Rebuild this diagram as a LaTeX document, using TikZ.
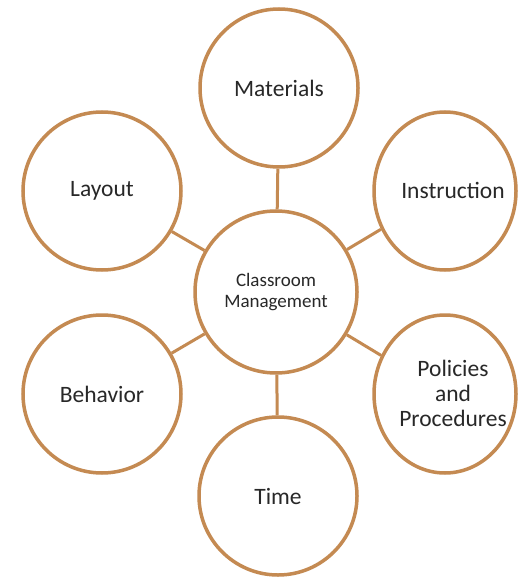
\documentclass[tikz,border=0pt]{standalone}
\usepackage{fontspec}
\setmainfont{Carlito}
\usetikzlibrary{shapes.geometric}
\definecolor{ring}{RGB}{196,138,82}
\definecolor{ink}{RGB}{40,40,40}
% label with no size of its own, nudged right and down inside its ring
\newcommand{\nudged}[1]{\makebox[0pt]{\hspace*{16pt}\raisebox{-9pt}[0pt][0pt]{\begin{tabular}{@{}c@{}}#1\end{tabular}}}}
\begin{document}
\begin{tikzpicture}[x=1pt,y=-1pt,
  topic/.style={circle,draw=ring,line width=3.5pt,fill=white,inner sep=0pt,
    minimum size=158pt,text=ink,align=center,font=\fontsize{23.5}{25}\selectfont},
  sidetopic/.style={ellipse,draw=ring,line width=3.5pt,fill=white,inner sep=0pt,
    minimum width=142pt,minimum height=158pt,text=ink,
    font=\fontsize{23.5}{25}\selectfont},
  hub/.style={topic,minimum size=162pt,font=\fontsize{19}{21.5}\selectfont},
  link/.style={draw=ring,line width=3pt}]
  \useasboundingbox[fill=white] (0,0) rectangle (519,577);

  \node[hub] (cm) at (276,292) {Classroom\\Management};
  \node[topic] (mat) at (279,88) {Materials};
  \node[topic] (lay) at (102,191) {Layout};
  \node[topic] (beh) at (102,394) {Behavior};
  \node[topic] (tim) at (278,496) {Time};
  \node[sidetopic] (ins) at (445,191) {\nudged{Instruction}};
  \node[sidetopic] (pol) at (445,394) {\nudged{Policies\\and\\Procedures}};

  \draw[link] (cm) -- (mat);
  \draw[link] (cm) -- (lay);
  \draw[link] (cm) -- (beh);
  \draw[link] (cm) -- (tim);
  \draw[link] (cm) -- (ins);
  \draw[link] (cm) -- (pol);
\end{tikzpicture}
\end{document}
